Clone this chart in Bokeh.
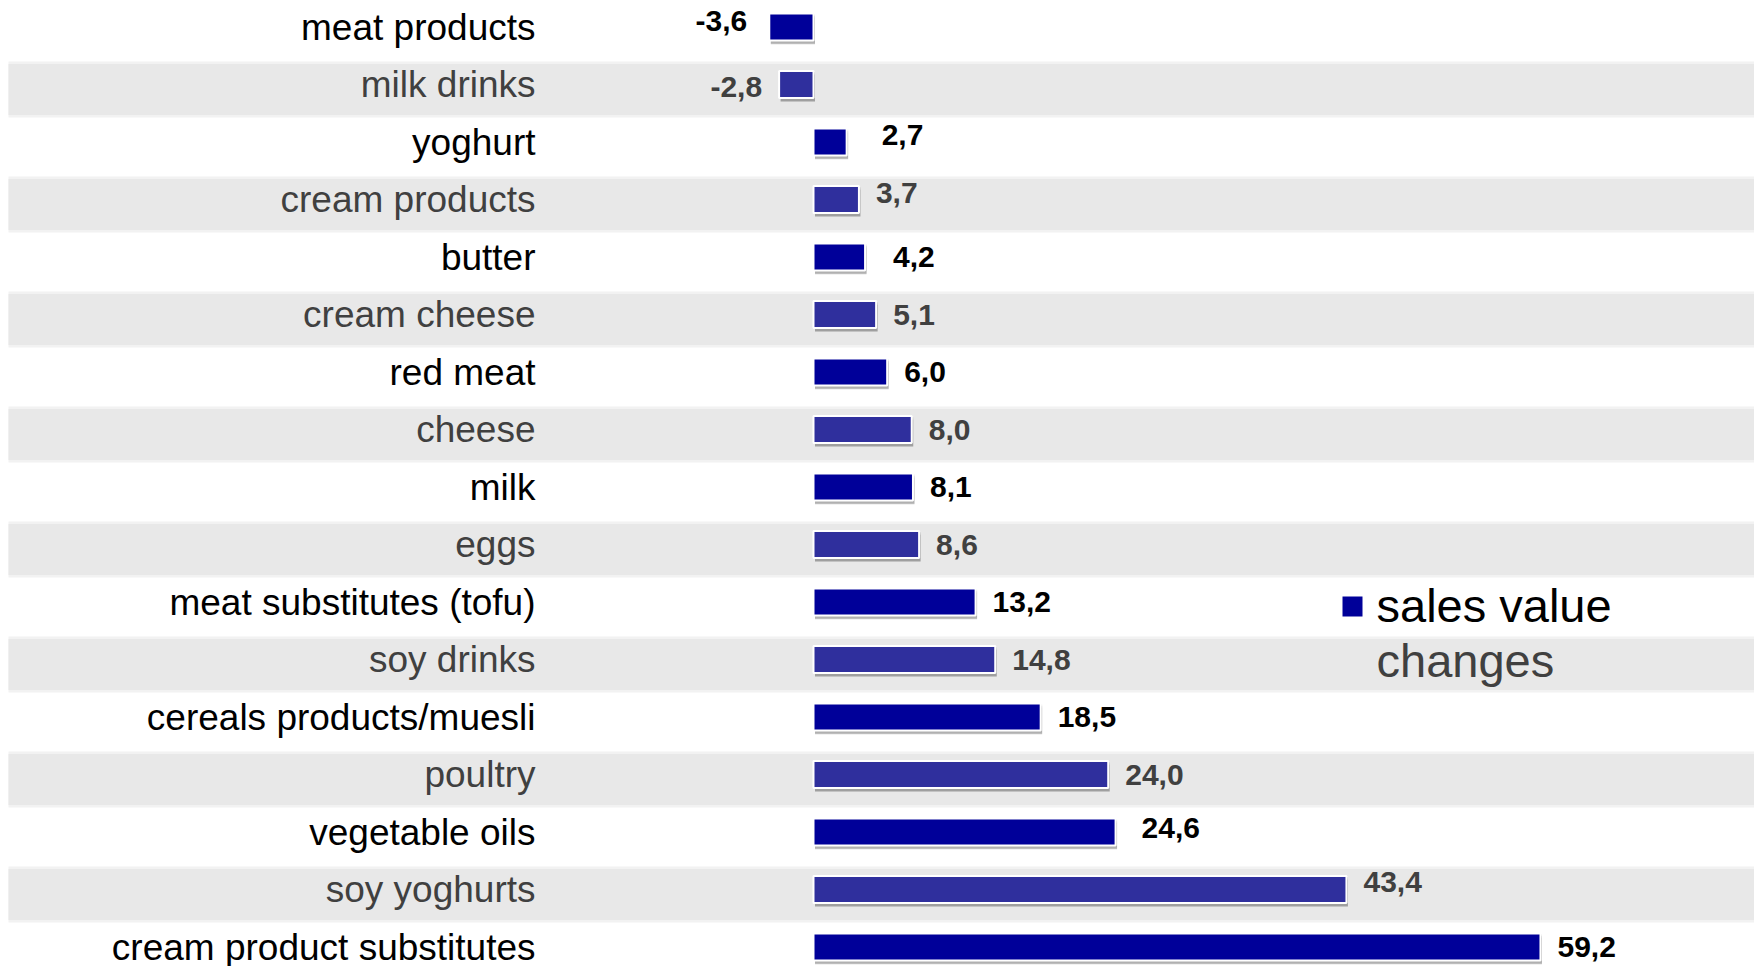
from bokeh.plotting import figure
from bokeh.models import Range1d, ColumnDataSource
from bokeh.embed import file_html
from bokeh.resources import INLINE
from bokeh.core.properties import value

# ---------------- data ----------------
categories = [
    "meat products", "milk drinks", "yoghurt", "cream products", "butter",
    "cream cheese", "red meat", "cheese", "milk", "eggs",
    "meat substitutes (tofu)", "soy drinks", "cereals products/muesli",
    "poultry", "vegetable oils", "soy yoghurts", "cream product substitutes",
]
changes = [-3.6, -2.8, 2.7, 3.7, 4.2, 5.1, 6.0, 8.0, 8.1, 8.6,
           13.2, 14.8, 18.5, 24.0, 24.6, 43.4, 59.2]
legend_lines = ["sales value", "changes"]

# ---------------- layout / style ----------------
W, H = 1754, 966
ROW_PX = 57.5          # row pitch in pixels
FIRST_ROW_PX = 26.5    # centre of first row from top
ZERO_PX = 813          # pixel of x = 0
UNIT_PX = 12.28        # pixels per unit
FONT = "Liberation Sans"

DARK_BAR, LIGHT_BAR = "#000099", "#2f2f9d"
DARK_TXT, LIGHT_TXT = "#000000", "#404040"
BAND = "#e8e8e8"

# small per-label nudges (px) as in the original layout
label_dx = [-5, 0, 18, 0, 11, 0, 0, 0, 0, 0, 0, 0, 0, 0, 9, 0, 0]
label_dy = [-6, 2, -7, -7, 0, 0, 0, 0, 0, 0, 0, 0, 0, 0, -4, -8, 0]

x_range = Range1d(-ZERO_PX / UNIT_PX, (W - ZERO_PX) / UNIT_PX)
y_range = Range1d(start=(H - FIRST_ROW_PX) / ROW_PX, end=-FIRST_ROW_PX / ROW_PX)

p = figure(width=W, height=H, x_range=x_range, y_range=y_range,
           output_backend="svg", toolbar_location=None, min_border=0,
           x_axis_type=None, y_axis_type=None,
           background_fill_color="white", border_fill_color="white",
           outline_line_color=None)
p.grid.visible = False

n = len(categories)
rows = list(range(n))
odd = [i for i in rows if i % 2 == 1]

# background bands (soft edge + band), starting 8px from the left edge
band_left = x_range.start + 8 / UNIT_PX
band_y = [i + 5 / ROW_PX for i in odd]
p.hbar(y=band_y, left=band_left, right=x_range.end + 10,
       height=56 / ROW_PX, fill_color="#f2f2f2", line_color=None)
p.hbar(y=band_y, left=band_left, right=x_range.end + 10,
       height=51 / ROW_PX, fill_color=BAND, line_color=None)

bar_colors = [LIGHT_BAR if i % 2 else DARK_BAR for i in rows]
txt_colors = [LIGHT_TXT if i % 2 else DARK_TXT for i in rows]

# bar shadows
for k, (dy, a) in enumerate([(4, 0.10), (3, 0.12), (2, 0.12)]):
    p.hbar(y=[i + dy / ROW_PX for i in rows],
           left=[min(0, v) + 1.5 / UNIT_PX for v in changes],
           right=[max(0, v) + 1.5 / UNIT_PX for v in changes],
           height=(27 + k) / ROW_PX, fill_color="black", fill_alpha=a,
           line_color=None)

# bars
src = ColumnDataSource(dict(y=rows, left=[min(0, v) for v in changes],
                            right=[max(0, v) for v in changes],
                            color=bar_colors))
p.hbar(y="y", left="left", right="right", height=27 / ROW_PX,
       fill_color="color", line_color="white", line_width=2, source=src)

# category labels
cat_src = ColumnDataSource(dict(x=[(535 - ZERO_PX) / UNIT_PX] * n, y=rows,
                                text=categories, color=txt_colors))
p.text(x="x", y="y", text="text", source=cat_src, text_color="color",
       text_align="right", text_baseline="middle",
       text_font=value(FONT), text_font_size="37px")

# value labels
def fmt(v):
    return f"{v:.1f}".replace(".", ",")

pos = [i for i in rows if changes[i] >= 0]
neg = [i for i in rows if changes[i] < 0]
for idx, align, sign in [(pos, "left", 1), (neg, "right", -1)]:
    s = ColumnDataSource(dict(
        x=[changes[i] for i in idx], y=[rows[i] for i in idx],
        text=[fmt(changes[i]) for i in idx],
        xo=[sign * 17 + label_dx[i] for i in idx],
        yo=[label_dy[i] for i in idx],
        color=[txt_colors[i] for i in idx]))
    p.text(x="x", y="y", text="text", source=s, x_offset="xo", y_offset="yo",
           text_color="color", text_align=align, text_baseline="middle",
           text_font=value(FONT), text_font_size="30px",
           text_font_style="bold")

# legend (drawn manually, two lines)
leg_x = (1342 - ZERO_PX) / UNIT_PX
p.rect(x=[leg_x + 10 / UNIT_PX], y=[10 + 4.5 / ROW_PX], width=20 / UNIT_PX,
       height=20 / ROW_PX, fill_color=DARK_BAR, line_color=None)
leg_src = ColumnDataSource(dict(x=[(1376 - ZERO_PX) / UNIT_PX] * 2,
                                y=[10 + 3 / ROW_PX, 11 + 1 / ROW_PX],
                                text=legend_lines,
                                color=[DARK_TXT, LIGHT_TXT]))
p.text(x="x", y="y", text="text", source=leg_src, text_color="color",
       text_align="left", text_baseline="middle",
       text_font=value(FONT), text_font_size="47px")

open("out.html", "w").write(file_html(p, INLINE))
